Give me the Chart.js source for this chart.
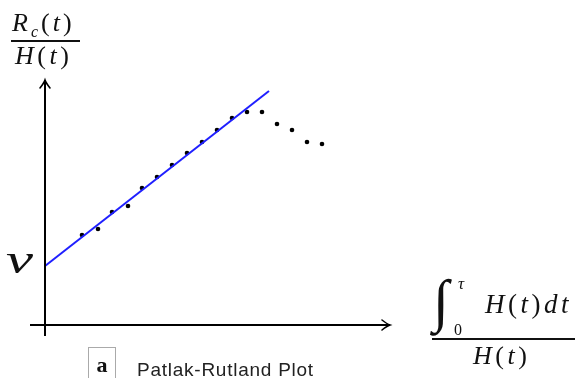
<!DOCTYPE html>
<html>
<head>
<meta charset="utf-8">
<script src="https://cdn.jsdelivr.net/npm/chart.js@4"></script>
<style>
html, body { margin: 0; padding: 0; background: #fff; }
#wrap { position: relative; width: 575px; height: 378px; overflow: hidden; }
#chart { position: absolute; left: 0; top: 0; }
.m { position: absolute; font-family: "Liberation Serif", "DejaVu Serif", serif; color: #111; white-space: nowrap; line-height: 1; }
.i { font-style: italic; }
.bar { position: absolute; background: #111; height: 2px; }
.box { position: absolute; border: 1px solid #aaa; border-bottom: none; font-family: "Liberation Serif", serif; font-weight: bold; font-size: 22px; text-align: center; color: #111; }
.cap { position: absolute; font-family: "Liberation Sans", Arial, sans-serif; font-size: 19px; letter-spacing: 0.75px; color: #222; }
</style>
</head>
<body>
<div id="wrap">
  <canvas id="chart" width="575" height="378"></canvas>

  <!-- y label: Rc(t)/H(t) -->
  <div class="m" style="left:12px; top:10px; font-size:26px; letter-spacing:3px;"><span class="i">R</span><sub class="i" style="font-size:16px;">c</sub>(<span class="i">t</span>)</div>
  <div class="bar" style="left:11px; top:40px; width:69px;"></div>
  <div class="m" style="left:15px; top:43px; font-size:26px; letter-spacing:3.5px;"><span class="i">H</span>(<span class="i">t</span>)</div>

  <!-- ordonnee a l'origine -->
  <div class="m i" style="left:6px; top:238px; font-size:42px; transform:scaleX(1.45); transform-origin:left top;">v</div>

  <!-- x label -->
  <div class="m" style="left:433px; top:272px; font-size:58px;">∫</div>
  <div class="m i" style="left:458px; top:275px; font-size:17px;">τ</div>
  <div class="m" style="left:454px; top:322px; font-size:16px;">0</div>
  <div class="m" style="left:485px; top:291px; font-size:27px; letter-spacing:3.5px;"><span class="i">H</span>(<span class="i">t</span>)<span class="i">dt</span></div>
  <div class="bar" style="left:432px; top:338px; width:143px;"></div>
  <div class="m" style="left:473px; top:343px; font-size:26px; letter-spacing:3.5px;"><span class="i">H</span>(<span class="i">t</span>)</div>

  <!-- legende -->
  <div class="box" style="left:88px; top:347px; width:26px; height:31px; line-height:34px;">a</div>
  <div class="cap" style="left:137px; top:359px;">Patlak-Rutland Plot</div>
</div>
<script>
// points mesures
const ptsX = [37, 53, 67, 83, 97, 112, 127, 142, 157, 172, 187, 202, 217, 232, 247, 262, 277];
const ptsY = [90, 96, 113, 119, 137, 148, 160, 172, 183, 195, 207, 213, 213, 201, 195, 183, 181];

// droite d'ajustement
const fitX = [0, 224];
const fitY = [59, 234];

// axes
const xAxisX = [-15, 345];
const yAxisY = [-11, 245];

const toXY = (xs, ys) => xs.map((x, i) => ({ x: x, y: ys[i] }));

// fleches au bout des axes
const arrowPlugin = {
    id: 'arrows',
    afterDatasetsDraw(chart) {
        const ctx = chart.ctx;
        const xs = chart.scales.x, ys = chart.scales.y;
        ctx.save();
        ctx.strokeStyle = '#000';
        ctx.lineWidth = 1.6;
        ctx.lineCap = 'round';
        // fleche horizontale
        let tx = xs.getPixelForValue(xAxisX[1]), ty = ys.getPixelForValue(0);
        ctx.beginPath();
        ctx.moveTo(tx - 8, ty - 5); ctx.quadraticCurveTo(tx - 3, ty - 1, tx, ty);
        ctx.quadraticCurveTo(tx - 3, ty + 1, tx - 8, ty + 5);
        ctx.stroke();
        // fleche verticale
        tx = xs.getPixelForValue(0); ty = ys.getPixelForValue(yAxisY[1]);
        ctx.beginPath();
        ctx.moveTo(tx - 5, ty + 8); ctx.quadraticCurveTo(tx - 1, ty + 3, tx, ty);
        ctx.quadraticCurveTo(tx + 1, ty + 3, tx + 5, ty + 8);
        ctx.stroke();
        ctx.restore();
    }
};

document.addEventListener('DOMContentLoaded', function() {
    const ctx = document.getElementById('chart').getContext('2d');
    new Chart(ctx, {
        type: 'scatter',
        data: {
            datasets: [{
                label: 'axe x',
                data: toXY(xAxisX, [0, 0]),
                showLine: true,
                borderColor: '#000',
                borderWidth: 2,
                pointRadius: 0,
                clip: false
            }, {
                label: 'axe y',
                data: toXY([0, 0], yAxisY),
                showLine: true,
                borderColor: '#000',
                borderWidth: 2,
                pointRadius: 0,
                clip: false
            }, {
                label: 'ajustement',
                data: toXY(fitX, fitY),
                showLine: true,
                borderColor: '#1f1fff',
                borderWidth: 2,
                pointRadius: 0,
                clip: false
            }, {
                label: 'mesures',
                data: toXY(ptsX, ptsY),
                backgroundColor: '#000',
                borderColor: '#000',
                pointRadius: 2.3,
                borderWidth: 0,
                clip: false
            }]
        },
        options: {
            responsive: false,
            animation: false,
            devicePixelRatio: 1,
            layout: { padding: { left: 30, right: 183, top: 78, bottom: 42 } },
            scales: {
                x: { type: 'linear', min: -15, max: 347, display: false },
                y: { type: 'linear', min: -11, max: 247, display: false }
            },
            plugins: {
                legend: { display: false },
                tooltip: { enabled: false }
            }
        },
        plugins: [arrowPlugin]
    });
});
</script>
</body>
</html>
